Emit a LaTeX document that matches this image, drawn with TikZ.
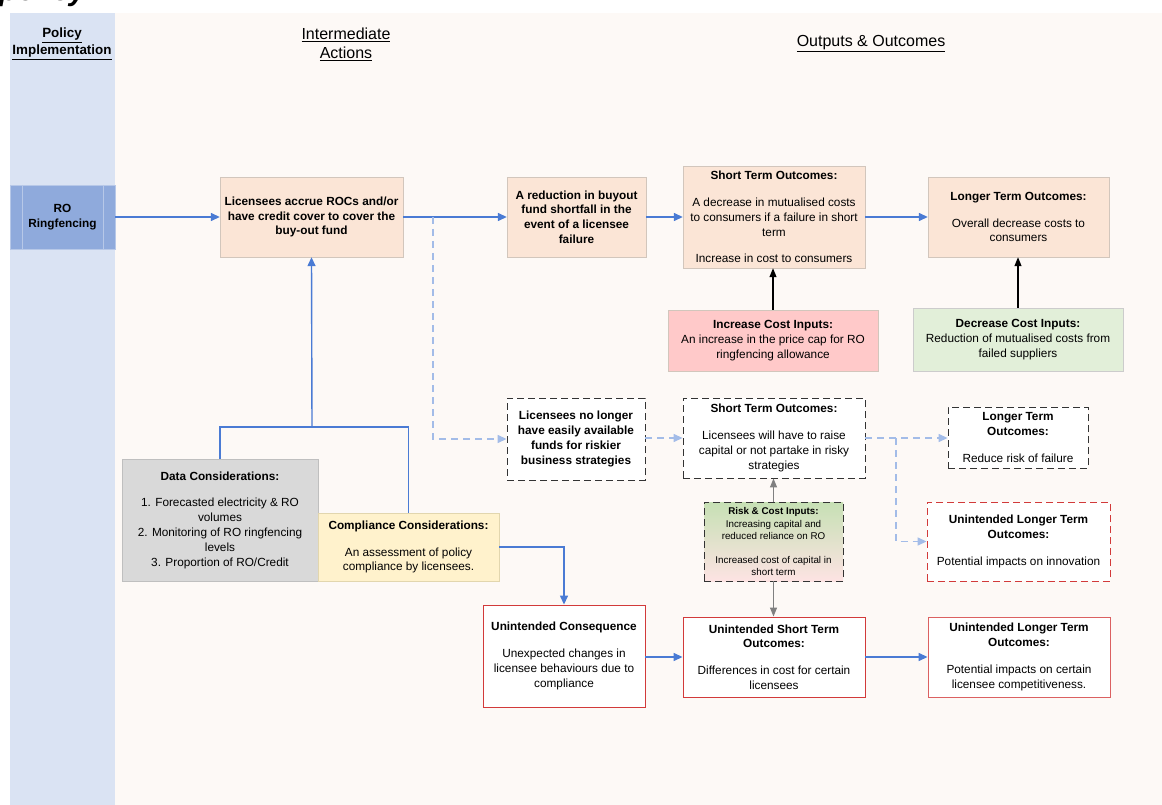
\documentclass[tikz,border=0pt]{standalone}
\usepackage{fontspec}
\setmainfont{Liberation Sans}
\usetikzlibrary{arrows.meta}

\definecolor{bandblue}{HTML}{DAE3F3}
\definecolor{paper}{HTML}{FDF9F6}
\definecolor{roblue}{HTML}{8FAADC}
\definecolor{roline}{HTML}{B7C8E8}
\definecolor{peach}{HTML}{FBE5D6}
\definecolor{peachline}{HTML}{D2C6BC}
\definecolor{pinkin}{HTML}{FFC9C9}
\definecolor{greenin}{HTML}{E2EFD9}
\definecolor{greytop}{HTML}{C6E0B4}
\definecolor{pinkbot}{HTML}{FDE3E3}
\definecolor{datagrey}{HTML}{D9D9D9}
\definecolor{compyel}{HTML}{FFF2CC}
\definecolor{compline}{HTML}{E2D6AE}
\definecolor{flowblue}{HTML}{4A7BD4}
\definecolor{dashblue}{HTML}{A3BCE8}
\definecolor{redline}{HTML}{D23A3A}

\newcommand\boxfont{\fontsize{11.8}{14.8}\selectfont}
\newcommand\riskfont{\fontsize{9.8}{12.5}\selectfont}

\tikzset{
  box/.style={draw=peachline, fill=peach, align=center, inner sep=2pt, font=\boxfont},
  dashbox/.style={draw=black!80, fill=white, dash pattern=on 7pt off 4pt, line width=0.9pt, align=center, inner sep=2pt, font=\boxfont},
  redbox/.style={draw=redline, fill=white, line width=0.9pt, align=center, inner sep=2pt, font=\boxfont},
  flow/.style={draw=flowblue, line width=1.4pt, -{Triangle[length=9pt,width=8pt]}},
  dflow/.style={draw=dashblue, line width=1.4pt, dash pattern=on 7pt off 5pt, -{Triangle[length=9pt,width=8pt]}},
  blk/.style={draw=black, line width=1.1pt, -{Triangle[length=9pt,width=7pt]}},
  gry/.style={draw=black!50, line width=1.1pt, -{Triangle[length=9pt,width=7pt]}}
}

\begin{document}
\begin{tikzpicture}[x=1pt, y=-1pt]
  \useasboundingbox (0,0) rectangle (1162,805);
  \fill[bandblue] (10,13) rectangle (115,805);
  \fill[paper] (115,13) rectangle (1162,805);
  \node[anchor=base west, inner sep=0, font=\fontsize{30}{32}\selectfont\bfseries\itshape]
    (ttl) at (-1,1) {policy.};

  % column headings
  \node[align=center, font=\fontsize{13.4}{17}\selectfont\bfseries]
    (ph) at (62,44) {\underline{Policy}\\\underline{Implementation}};
  \node[align=center, font=\fontsize{16}{19}\selectfont]
    (ih) at (346,44) {\underline{Intermediate}\\\underline{Actions}};
  \node[font=\fontsize{16}{19}\selectfont] (oh) at (871,44) {\underline{Outputs \& Outcomes}};

  % top row
  \node[draw=roline, fill=roblue, minimum width=105pt, minimum height=64pt, align=center, font=\boxfont\bfseries]
    (ro) at (62.5,217) {RO\\Ringfencing};
  \draw[roline] ([xshift=12pt]ro.north west) -- ([xshift=12pt]ro.south west)
    ([xshift=-12pt]ro.north east) -- ([xshift=-12pt]ro.south east);
  \node[box, minimum width=183pt, minimum height=80pt, font=\boxfont\bfseries]
    (acc) at (311.5,217) {Licensees accrue ROCs and/or\\have credit cover to cover the\\buy-out fund};
  \node[box, minimum width=139pt, minimum height=80pt, font=\boxfont\bfseries]
    (red) at (576.5,217) {A reduction in buyout\\fund shortfall in the\\event of a licensee\\failure};
  \node[box, minimum width=182pt, minimum height=102pt]
    (st1) at (774,217) {\textbf{Short Term Outcomes:}\\[12pt]A decrease in mutualised costs\\to consumers if a failure in short\\term\\[12pt]Increase in cost to consumers};
  \node[box, minimum width=181pt, minimum height=80pt]
    (lt1) at (1018.5,217) {\textbf{Longer Term Outcomes:}\\[12pt]Overall decrease costs to\\consumers};
  \node[box, draw=peachline, fill=pinkin, minimum width=210pt, minimum height=61pt]
    (inc) at (773,340.5) {\textbf{Increase Cost Inputs:}\\An increase in the price cap for RO\\ringfencing allowance};
  \node[box, draw=black!20, fill=greenin, minimum width=210pt, minimum height=63pt]
    (dec) at (1018,339.5) {\textbf{Decrease Cost Inputs:}\\Reduction of mutualised costs from\\failed suppliers};

  % middle row
  \node[dashbox, minimum width=138pt, minimum height=82pt, font=\boxfont\bfseries]
    (nl) at (576,439) {Licensees no longer\\have easily available\\funds for riskier\\business strategies};
  \node[dashbox, minimum width=182pt, minimum height=80pt]
    (st2) at (774,438) {\textbf{Short Term Outcomes:}\\[12pt]Licensees will have to raise\\capital or not partake in risky\\strategies};
  \node[dashbox, minimum width=140pt, minimum height=61pt]
    (lt2) at (1018,437.5) {\textbf{Longer Term}\\\textbf{Outcomes:}\\[12pt]Reduce risk of failure};
  \node[dashbox, draw=redline, minimum width=183pt, minimum height=79pt]
    (ul2) at (1018.5,541.5) {\textbf{Unintended Longer Term}\\\textbf{Outcomes:}\\[12pt]Potential impacts on innovation};
  \node[dashbox, top color=greytop, bottom color=pinkbot, minimum width=139pt, minimum height=79pt, font=\riskfont]
    (rsk) at (773.5,541.5) {\textbf{Risk \& Cost Inputs:}\\Increasing capital and\\reduced reliance on RO\\[11pt]Increased cost of capital in\\short term};

  % considerations
  \node[box, draw=black!25, fill=datagrey, minimum width=196pt, minimum height=122pt]
    (dat) at (220,520) {\textbf{Data Considerations:}\\[12pt]1. Forecasted electricity \& RO\\volumes\\2. Monitoring of RO ringfencing\\levels\\3. Proportion of RO/Credit};
  \node[box, draw=compline, fill=compyel, minimum width=181pt, minimum height=68pt]
    (cmp) at (408.5,547) {\textbf{Compliance Considerations:}\\[12pt]An assessment of policy\\compliance by licensees.};

  % bottom row
  \node[redbox, minimum width=162pt, minimum height=102pt]
    (uc) at (564,656) {\textbf{Unintended Consequence}\\[12pt]Unexpected changes in\\licensee behaviours due to\\compliance};
  \node[redbox, minimum width=182pt, minimum height=80pt]
    (ust) at (774,657) {\textbf{Unintended Short Term}\\\textbf{Outcomes:}\\[12pt]Differences in cost for certain\\licensees};
  \node[redbox, draw=redline!80, minimum width=182pt, minimum height=80pt]
    (ult) at (1019,657) {\textbf{Unintended Longer Term}\\\textbf{Outcomes:}\\[12pt]Potential impacts on certain\\licensee competitiveness.};

  \coordinate (split) at (433,217);
  \coordinate (join) at (312,427);
  \coordinate (fork) at (896,438);

  \draw[flow] (ro) -- (acc);
  \draw[flow] (acc) -- (red);
  \draw[flow] (red) -- (st1);
  \draw[flow] (st1) -- (lt1);
  \draw[blk] (inc.north) -- (inc.north |- st1.south);
  \draw[blk] (dec.north) -- (dec.north |- lt1.south);
  \draw[dflow] (split) |- (nl.west);
  \draw[dflow] (nl.east |- st2.west) -- (st2.west);
  \draw[dflow] (st2.east) -- (st2.east -| lt2.west);
  \draw[dflow] (fork) |- (ul2.west);
  \draw[gry] (rsk.north) -- (rsk.north |- st2.south);
  \draw[gry] (rsk.south) -- (rsk.south |- ust.north);
  \draw[flowblue, line width=1.4pt] (dat.north) |- (join) -| (cmp.north);
  \draw[flow] (join) -- (acc.south);
  \draw[flow] (cmp.east) -| (uc.north);
  \draw[flow] (uc.east |- ust.west) -- (ust.west);
  \draw[flow] (ust) -- (ult);
\end{tikzpicture}
\end{document}
